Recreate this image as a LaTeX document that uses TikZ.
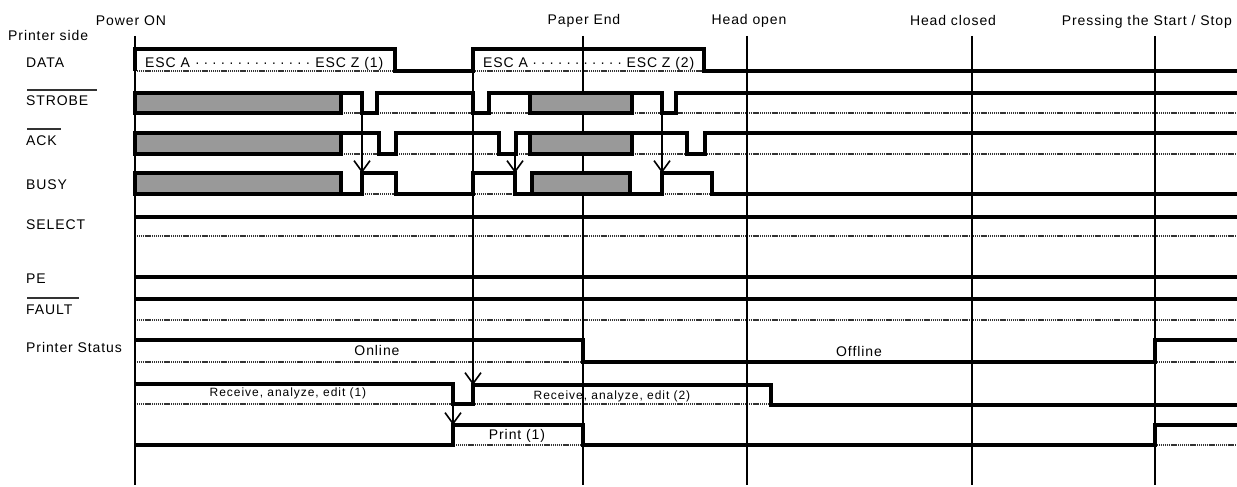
\documentclass[tikz,border=0pt]{standalone}
\usepackage{fontspec}
\setmainfont{Liberation Sans}
\newfontfamily\lsf[LetterSpace=6.5]{Liberation Sans}
\newfontfamily\lsfs[LetterSpace=8]{Liberation Sans}
\usetikzlibrary{arrows.meta}
\tikzset{
  sig/.style={line width=3.2pt, line join=miter},
  refline/.style={line width=1.8pt, black!80, dash pattern=on 1.2pt off 0.7pt},
  vmark/.style={line width=1.6pt},
  cause/.style={line width=1.6pt, -{Straight Barb[length=11pt,width=16pt]}},
  shadebox/.style={draw, line width=3.2pt, fill=black!40},
  lbl/.style={font=\lsf\fontsize{14}{16}\selectfont, inner sep=0pt, anchor=base west},
  toplbl/.style={font=\lsf\fontsize{14}{16}\selectfont, inner sep=0pt, anchor=base},
  smalllbl/.style={font=\lsfs\fontsize{12}{14}\selectfont, inner sep=0pt, anchor=base},
  ovl/.style={line width=1.2pt, black!80}
}
\begin{document}
\begin{tikzpicture}[x=1pt,y=-1pt]
\useasboundingbox (0,0) rectangle (1237,487);

% reference (low level) lines
\foreach \yy in {71,113,154,194,236,320,362,404,445}
  \draw[refline] (135,\yy) -- (1237,\yy);

% event marker lines
\foreach \xx in {135,583,747,972,1155}
  \draw[vmark] (\xx,36) -- (\xx,485);

% DATA
\draw[sig] (135,71) -- (135,49) -- (395,49) -- (395,71) -- (473,71) -- (473,49) -- (704,49) -- (704,71) -- (1237,71);
% STROBE
\draw[shadebox] (135,93) rectangle (341,113);
\draw[shadebox] (530,93) rectangle (632,113);
\draw[sig] (341,93) -- (362,93) -- (362,113) -- (377,113) -- (377,93) -- (473,93) -- (473,113) -- (489,113) -- (489,93) -- (662,93) -- (662,113) -- (676,113) -- (676,93) -- (1237,93);
% ACK
\draw[shadebox] (135,133) rectangle (341,154);
\draw[shadebox] (530,133) rectangle (632,154);
\draw[sig] (341,133) -- (379,133) -- (379,154) -- (396,154) -- (396,133) -- (499,133) -- (499,154) -- (516,154) -- (516,133) -- (687,133) -- (687,154) -- (705,154) -- (705,133) -- (1237,133);
% BUSY
\draw[shadebox] (135,173) rectangle (341,194);
\draw[shadebox] (532,173) rectangle (630,194);
\draw[sig] (341,194) -- (362,194) -- (362,173) -- (396,173) -- (396,194) -- (473,194) -- (473,173) -- (515,173) -- (515,194) -- (662,194) -- (662,173) -- (712,173) -- (712,194) -- (1237,194);
% SELECT, PE, FAULT
\draw[sig] (135,217) -- (1237,217);
\draw[sig] (135,277) -- (1237,277);
\draw[sig] (135,299) -- (1237,299);
% Printer status
\draw[sig] (135,340) -- (583,340) -- (583,362) -- (1155,362) -- (1155,340) -- (1237,340);
% Receive, analyze, edit
\draw[sig] (135,384) -- (453,384) -- (453,404) -- (473,404) -- (473,385) -- (771,385) -- (771,405) -- (1237,405);
% Print
\draw[sig] (135,445) -- (453,445) -- (453,425) -- (583,425) -- (583,445) -- (1155,445) -- (1155,425) -- (1237,425);

% cause-effect connectors
\coordinate (s1) at (362,93);  \coordinate (b1) at (362,173);
\coordinate (a2) at (515,154); \coordinate (b2) at (515,173);
\coordinate (s3) at (662,93);  \coordinate (b3) at (662,173);
\coordinate (d2) at (473,49);  \coordinate (r2) at (473,385);
\coordinate (r1) at (453,384); \coordinate (p1) at (453,425);
\draw[cause] (s1) -- (b1);
\draw[cause] (a2) -- (b2);
\draw[cause] (s3) -- (b3);
\draw[cause] (d2) -- (r2);
\draw[cause] (r1) -- (p1);

% top labels
\node[toplbl] (tpow) at (131,26) {Power ON};
\node[lbl] (tside) at (8,41) {Printer side};
\node[toplbl] (tpe) at (584,25) {Paper End};
\node[toplbl] (tho) at (749,25) {Head open};
\node[toplbl] (thc) at (953,26) {Head closed};
\node[toplbl, anchor=base east] (tpr) at (1232,26) {Pressing the Start / Stop};

% signal names
\node[lbl] (ldata) at (26,67) {DATA};
\node[lbl] (lstrobe) at (26,105) {STROBE};
\node[lbl] (lack) at (26,145) {ACK};
\node[lbl] (lbusy) at (26,189) {BUSY};
\node[lbl] (lsel) at (26,229) {SELECT};
\node[lbl] (lpe) at (26,283) {PE};
\node[lbl] (lfault) at (26,314) {FAULT};
\node[lbl] (lstat) at (26,352) {Printer Status};
\draw[ovl] (27,90) -- (97,90);
\draw[ovl] (27,129) -- (61,129);
\draw[ovl] (27,298) -- (79,298);

% texts in the chart
\node[lbl] (esc1) at (145,67) {\makebox[238pt][l]{ESC A\cleaders\hbox to 8.5pt{\hss·\hss}\hfill ESC Z (1)}};
\node[lbl] (esc2) at (483,67) {\makebox[211pt][l]{ESC A\cleaders\hbox to 8.5pt{\hss·\hss}\hfill ESC Z (2)}};
\node[toplbl] (tonl) at (377,355) {Online};
\node[toplbl] (toff) at (859,356) {Offline};
\node[smalllbl] (trec1) at (288,396) {Receive, analyze, edit (1)};
\node[smalllbl] (trec2) at (612,399) {Receive, analyze, edit (2)};
\node[toplbl] (tprint) at (517,439) {Print (1)};
\end{tikzpicture}
\end{document}
